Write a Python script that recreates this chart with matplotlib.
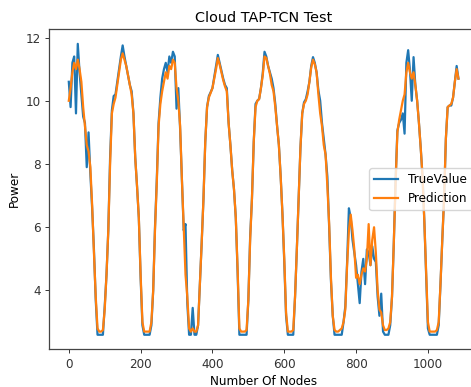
import numpy as np
import matplotlib
matplotlib.use("Agg")
import matplotlib.pyplot as plt

# node index, sampled every 5 nodes
nodes = np.arange(0, 1090, 5)

true_value = [
    10.6, 9.8, 11.2, 11.4, 9.6, 11.8, 10.9, 10.2, 9.5, 9.3,
    7.9, 9.0, 7.7, 6.6, 5.3, 3.7, 2.6, 2.6, 2.6, 2.6,
    3.5, 4.5, 5.9, 8.2, 9.7, 10.15, 10.2, 10.6, 11.0, 11.4,
    11.75, 11.4, 11.1, 10.8, 10.5, 10.3, 9.6, 8.2, 7.3, 6.3,
    4.4, 2.9, 2.6, 2.6, 2.6, 2.6, 2.9, 4.0, 6.0, 7.5,
    9.3, 10.1, 10.7, 11.0, 11.2, 10.9, 11.4, 11.2, 11.55, 11.4,
    9.75, 10.4, 9.1, 7.5, 5.9, 6.1, 3.6, 2.6, 2.6, 3.45,
    2.6, 2.6, 2.9, 4.2, 5.5, 6.9, 8.7, 9.8, 10.15, 10.27,
    10.4, 10.75, 11.1, 11.45, 11.2, 10.95, 10.7, 10.5, 10.4, 9.3,
    8.6, 7.8, 7.2, 6.3, 4.6, 2.6, 2.6, 2.6, 2.6, 2.6,
    3.7, 5.7, 6.9, 8.7, 9.9, 10.0, 10.06, 10.4, 10.86, 11.55,
    11.4, 11.1, 10.9, 10.7, 10.4, 9.9, 9.2, 8.6, 7.6, 6.4,
    4.9, 3.2, 2.6, 2.6, 2.6, 2.6, 3.8, 5.3, 6.9, 8.5,
    9.6, 9.95, 10.05, 10.3, 10.6, 11.1, 11.38, 11.2, 10.9, 10.33,
    10.0, 9.3, 8.8, 8.3, 7.6, 6.0, 4.3, 3.2, 2.6, 2.6,
    2.6, 2.6, 2.6, 3.0, 3.5, 4.9, 6.6, 6.3, 5.6, 5.2,
    4.8, 4.2, 3.6, 4.6, 5.0, 4.2, 5.3, 5.2, 4.8, 5.4,
    5.0, 4.9, 3.8, 3.2, 3.9, 2.7, 2.6, 2.6, 2.6, 2.9,
    3.8, 5.5, 7.5, 9.06, 9.3, 9.4, 9.6, 8.96, 11.2, 11.6,
    10.96, 10.0, 11.38, 10.5, 10.0, 9.3, 8.5, 7.6, 6.2, 4.5,
    2.8, 2.6, 2.6, 2.6, 2.6, 2.6, 2.9, 4.2, 5.6, 6.9,
    8.8, 9.8, 9.85, 9.85, 10.1, 10.6, 11.1, 10.7,
]

prediction = [
    10.0, 10.4, 10.9, 11.2, 11.0, 11.3, 11.0, 10.6, 9.8, 9.2,
    8.6, 8.4, 7.9, 6.7, 5.2, 3.8, 2.8, 2.7, 2.7, 2.75,
    3.4, 4.5, 5.9, 8.0, 9.6, 9.9, 10.1, 10.5, 10.9, 11.3,
    11.5, 11.3, 11.1, 10.8, 10.5, 10.2, 9.6, 8.2, 7.3, 6.3,
    4.5, 3.0, 2.7, 2.7, 2.7, 2.7, 3.0, 4.0, 5.9, 7.4,
    9.2, 9.9, 10.3, 10.6, 10.9, 10.7, 11.1, 11.0, 11.3, 11.2,
    10.4, 10.0, 9.2, 7.5, 6.0, 4.5, 3.8, 2.8, 2.7, 2.8,
    2.7, 2.7, 2.9, 4.2, 5.5, 6.9, 8.7, 9.8, 10.1, 10.25,
    10.4, 10.7, 11.0, 11.35, 11.15, 10.9, 10.65, 10.45, 10.3, 9.3,
    8.6, 7.8, 7.2, 6.3, 4.7, 2.8, 2.7, 2.7, 2.7, 2.75,
    3.7, 5.6, 6.9, 8.7, 9.8, 10.0, 10.05, 10.4, 10.8, 11.4,
    11.35, 11.1, 10.85, 10.5, 10.3, 9.8, 9.2, 8.6, 7.6, 6.4,
    5.0, 3.3, 2.7, 2.7, 2.7, 2.75, 3.8, 5.3, 6.9, 8.5,
    9.6, 9.9, 10.0, 10.2, 10.6, 11.05, 11.3, 11.15, 10.9, 10.2,
    9.6, 9.2, 8.6, 8.3, 7.3, 6.1, 4.4, 3.2, 2.75, 2.7,
    2.7, 2.75, 2.8, 3.0, 3.4, 4.8, 5.9, 6.4, 5.9, 5.3,
    4.4, 4.5, 4.2, 4.5, 4.7, 4.6, 5.0, 6.1, 4.8, 5.6,
    6.0, 5.2, 4.0, 3.4, 3.3, 2.9, 2.75, 2.75, 2.8, 3.0,
    3.8, 5.5, 7.4, 9.0, 9.4, 9.7, 10.0, 10.2, 10.9, 11.2,
    10.9, 10.7, 10.9, 10.5, 10.0, 9.3, 8.5, 7.6, 6.2, 4.6,
    3.0, 2.7, 2.7, 2.7, 2.7, 2.75, 3.0, 4.2, 5.6, 6.9,
    8.8, 9.8, 9.85, 9.9, 10.1, 10.6, 11.0, 10.7,
]

S = 0.866  # screenshot was scaled down from a default-size figure

fig = plt.figure(figsize=(4.71, 3.87), dpi=100)
ax = fig.add_axes([0.1047, 0.0974, 0.910, 0.8269])

ax.plot(nodes, true_value, color="#1f77b4", lw=1.6, label="TrueValue")
ax.plot(nodes, prediction, color="#ff7f0e", lw=1.6, label="Prediction")

ax.set_title("Cloud TAP-TCN Test", fontsize=12 * S, pad=6 * S)
ax.set_xlabel("Number Of Nodes", fontsize=10 * S, labelpad=3.5 * S)
ax.set_ylabel("Power", fontsize=10 * S, labelpad=4 * S)
ax.tick_params(labelsize=10 * S, length=3.5 * S, width=0.8 * S, pad=3.5 * S,
               colors="#333333")
ax.set_xticks([0, 200, 400, 600, 800, 1000])
ax.set_yticks([4, 6, 8, 10, 12])
for sp in ax.spines.values():
    sp.set_linewidth(0.9)
    sp.set_color("#444444")

ax.legend(loc="center right", fontsize=10 * S)

fig.savefig("out.png", dpi=100)
